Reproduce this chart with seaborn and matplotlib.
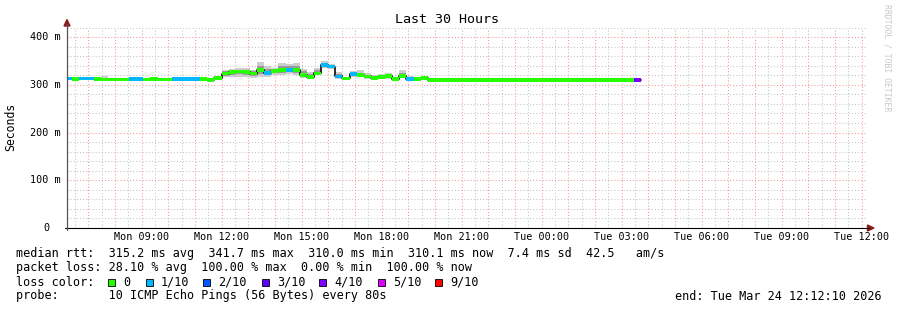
import numpy as np
import pandas as pd
import matplotlib
matplotlib.use("Agg")
import matplotlib.pyplot as plt
import seaborn as sns
from matplotlib.patches import Polygon, Rectangle
from matplotlib.lines import Line2D
import matplotlib.transforms as mtransforms

# ---------------- data ----------------
start_hour = 6.2028      # Mon 06:12:10 (hours since Mon 00:00)
end_hour = 36.2028       # Tue 12:12:10
first_full_step = 6.4    # first 16-minute consolidation boundary
step_hours = 16 / 60

median_ms = [
    313.5,
    312.7, 313.0, 313.0, 312.0, 311.0, 311.0, 311.0, 311.0, 312.0, 312.0,
    311.0, 312.0, 311.0, 311.0, 312.0, 312.0, 312.0, 312.0, 312.0, 310.0,
    314.8, 323.5, 326.7, 327.4, 327.0, 323.6, 331.0, 325.0, 329.0, 331.0,
    331.5, 331.5, 321.0, 316.0, 324.0, 341.7, 338.0, 317.5, 313.5, 322.0,
    320.0, 317.7, 314.0, 316.0, 318.0, 312.0, 319.0, 311.6, 311.6, 314.0,
    310.6, 310.1, 310.1, 310.1, 310.1, 310.1, 310.1, 310.1, 310.1, 310.1,
    310.1, 310.1, 310.1, 310.1, 310.1, 310.1, 310.1, 310.1, 310.1, 310.1,
    310.1, 310.1, 310.1, 310.1, 310.1, 310.1, 310.1, 310.1, 310.1, 310.1,
]
loss_pings = [
    1,
    0, 1, 1, 0, 0, 0, 0, 0, 1, 1,
    0, 0, 0, 0, 1, 1, 1, 1, 0, 0,
    0, 0, 0, 0, 0, 0, 0, 1, 0, 0,
    1, 0, 0, 0, 0, 1, 1, 1, 0, 1,
    0, 0, 0, 0, 0, 0, 0, 1, 0, 0,
    0, 0, 0, 0, 0, 0, 0, 0, 0, 0,
    0, 0, 0, 0, 0, 0, 0, 0, 0, 0,
    0, 0, 0, 0, 0, 0, 0, 0, 0, 4,
]
smoke_lo_ms = [
    310,
    310, 310, 310, 309, 308, 308, 308, 308, 309, 309,
    308, 309, 308, 308, 309, 309, 309, 309, 309, 307,
    311, 316, 316, 317, 316, 315, 316, 317, 321, 321,
    323, 321, 315, 312, 320, 335, 333, 312, 310, 316,
    316, 313, 310, 312, 313, 309, 315, 309, 309, 310,
    308.5, 310.1, 310.1, 310.1, 310.1, 310.1, 310.1, 310.1, 310.1, 310.1,
    310.1, 310.1, 310.1, 310.1, 310.1, 310.1, 310.1, 310.1, 310.1, 310.1,
    310.1, 310.1, 310.1, 310.1, 310.1, 310.1, 310.1, 310.1, 310.1, 310.1,
]
smoke_hi_ms = [
    316,
    315, 316, 316, 317, 318, 315, 315, 314, 315, 316,
    314, 315, 314, 314, 315, 315, 316, 315, 317, 314,
    318, 332, 333, 335, 335, 332, 347, 339, 335, 346,
    344, 346, 334, 327, 335, 349, 343, 326, 317, 328,
    330, 324, 321, 323, 324, 316, 330, 318, 317, 319,
    313, 310.1, 310.1, 310.1, 310.1, 310.1, 310.1, 310.1, 310.1, 310.1,
    310.1, 310.1, 310.1, 310.1, 310.1, 310.1, 310.1, 310.1, 310.1, 310.1,
    310.1, 310.1, 310.1, 310.1, 310.1, 310.1, 310.1, 310.1, 310.1, 310.1,
]

tick_hours = [9, 12, 15, 18, 21, 24, 27, 30, 33, 36]
tick_labels = ["Mon 09:00", "Mon 12:00", "Mon 15:00", "Mon 18:00", "Mon 21:00",
               "Tue 00:00", "Tue 03:00", "Tue 06:00", "Tue 09:00", "Tue 12:00"]
ytick_ms = [0, 100, 200, 300, 400]
ytick_labels = ["0", "100 m", "200 m", "300 m", "400 m"]

loss_legend_labels = ["0", "1/10", "2/10", "3/10", "4/10", "5/10", "9/10"]
loss_legend_counts = [0, 1, 2, 3, 4, 5, 9]
loss_colors = {0: "#26ff00", 1: "#00b8ff", 2: "#0059ff", 3: "#5e00ff",
               4: "#7e00ff", 5: "#dd00ff", 9: "#ff0000"}

title = "Last 30 Hours"
legend_lines = [
    "median rtt:  315.2 ms avg  341.7 ms max  310.0 ms min  310.1 ms now  7.4 ms sd  42.5   am/s",
    "packet loss: 28.10 % avg  100.00 % max  0.00 % min  100.00 % now",
    "loss color:",
    "probe:       10 ICMP Echo Pings (56 Bytes) every 80s",
]
end_text = "end: Tue Mar 24 12:12:10 2026"
watermark = "RRDTOOL / TOBI OETIKER"

# ---------------- figure ----------------
sns.set_theme(style="white")
plt.rcParams["font.family"] = ["DejaVu Sans Mono", "DejaVu Sans"]

W, H = 897, 310
fig = plt.figure(figsize=(W / 100, H / 100), dpi=100)
fig.patch.set_facecolor("white")

def fx(x):
    return x / W

def fy(y):
    return 1 - y / H

plot_left, plot_right, plot_top, plot_bottom = 67, 867, 27.5, 228
ax = fig.add_axes([fx(plot_left), fy(plot_bottom),
                   (plot_right - plot_left) / W, (plot_bottom - plot_top) / H])
ax.set_facecolor("white")
ax.set_xlim(start_hour, end_hour)
ax.set_ylim(0, 420)
for s in ax.spines.values():
    s.set_visible(False)

# grid
minor_v = np.arange(6.5, end_hour, 0.5)
major_v = minor_v[np.isclose(minor_v % 1, 0)]
minor_v = minor_v[~np.isclose(minor_v % 1, 0)]
minor_h = [y for y in range(20, 421, 20) if y % 100 != 0]
major_h = [100, 200, 300, 400]
dash = (0, (1, 2))
ax.vlines(minor_v, 0, 420, colors="#c4c4c4", linewidth=0.75, linestyles=dash, zorder=0)
ax.hlines(minor_h, start_hour, end_hour, colors="#c4c4c4", linewidth=0.75, linestyles=dash, zorder=0)
ax.vlines(major_v, 0, 420, colors="#ee9a9a", linewidth=0.75, linestyles=dash, zorder=0.5)
ax.hlines(major_h, start_hour, end_hour, colors="#ee9a9a", linewidth=0.75, linestyles=dash, zorder=0.5)

# time steps
n = len(median_ms)
starts = [start_hour] + [first_full_step + k * step_hours for k in range(n - 1)]
ends = starts[1:] + [first_full_step + (n - 1) * step_hours]
widths = np.array(ends) - np.array(starts)
med = np.array(median_ms)
lo = np.array(smoke_lo_ms)
hi = np.array(smoke_hi_ms)

# smoke (outer light, inner dark)
ax.bar(starts, hi - lo, bottom=lo, width=widths, align="edge",
       color="#cdcdcd", linewidth=0, zorder=1)
in_lo = med - (med - lo) * 0.55
in_hi = med + (hi - med) * 0.55
ax.bar(starts, in_hi - in_lo, bottom=in_lo, width=widths, align="edge",
       color="#9a9a9a", linewidth=0, zorder=1.2)

# median step line
df = pd.DataFrame({"t": starts + [ends[-1]], "ms": list(med) + [med[-1]]})
sns.lineplot(data=df, x="t", y="ms", drawstyle="steps-post", color="#1a1a1a",
             linewidth=1.3, ax=ax, zorder=2, sort=False, estimator=None)

# loss-coloured median bars
bar_colors = [loss_colors[c] for c in loss_pings]
ax.bar(starts, 7.5, bottom=med - 3.75, width=widths, align="edge",
       color=bar_colors, linewidth=0, zorder=3)

# axes ticks
ax.set_xticks(tick_hours)
ax.set_xticklabels(tick_labels)
ax.tick_params(axis="x", length=0, pad=3.2, labelsize=7.3, colors="#000000")
ax.set_yticks([])
ax.set_xlabel("")
ax.set_ylabel("")
blend = mtransforms.blended_transform_factory(fig.transFigure, ax.transData)
for v, lab in zip(ytick_ms, ytick_labels):
    if lab == "0":
        ax.text(fx(46.5), v, lab, transform=blend, ha="center", va="center",
                fontsize=7.3, color="#000000")
    else:
        ax.text(fx(61), v, lab, transform=blend, ha="right", va="center",
                fontsize=7.3, color="#000000")

# axis lines and arrows
fig.add_artist(Line2D([fx(65), fx(869)], [fy(228), fy(228)], color="#000000", linewidth=0.8))
fig.add_artist(Line2D([fx(67), fx(67)], [fy(230), fy(24)], color="#555555", linewidth=0.9))
arrow_c = "#8b1c1c"
fig.add_artist(Polygon([[fx(64), fy(26)], [fx(70), fy(26)], [fx(67), fy(19.5)]],
                       closed=True, color=arrow_c, transform=fig.transFigure))
fig.add_artist(Polygon([[fx(867.5), fy(225)], [fx(867.5), fy(231)], [fx(874), fy(228)]],
                       closed=True, color=arrow_c, transform=fig.transFigure))

# title / labels
fig.text(fx(447), fy(19.5), title, ha="center", va="center", fontsize=9.6, color="#000000")
fig.text(fx(11), fy(127), "Seconds", rotation=90, ha="center", va="center",
         fontsize=8.3, color="#000000")
fig.text(fx(886.5), fy(4), watermark, rotation=-90, ha="center", va="top",
         fontsize=5.9, color="#c8c8c8")

# legend block
line_y = [254, 268, 282, 296]
for yy, txt in zip(line_y, legend_lines):
    fig.text(fx(16), fy(yy), txt, ha="left", va="center", fontsize=8.5, color="#000000")
fig.text(fx(882), fy(296), end_text, ha="right", va="center", fontsize=8.5, color="#000000")

square_x = [108, 146, 203, 262, 319, 378, 435]
for sx, cnt, lab in zip(square_x, loss_legend_counts, loss_legend_labels):
    fig.add_artist(Rectangle((fx(sx), fy(285.5)), 7 / W, 7 / H, transform=fig.transFigure,
                             facecolor=loss_colors[cnt], edgecolor="#000000", linewidth=0.6))
    fig.text(fx(sx + 15), fy(282), lab, ha="left", va="center", fontsize=8.5, color="#000000")

fig.savefig("out.png", dpi=100, facecolor="white")
